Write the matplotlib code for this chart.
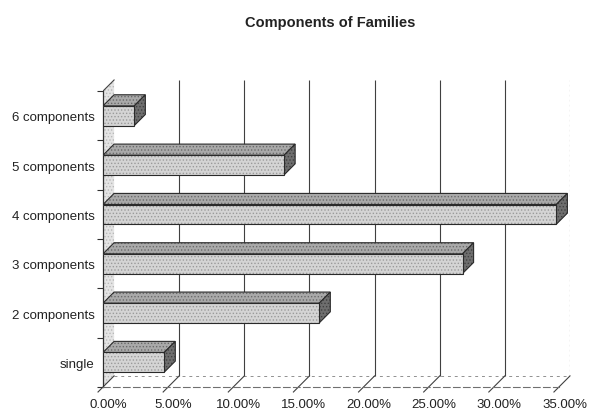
import matplotlib
matplotlib.use("Agg")
import matplotlib.pyplot as plt
from matplotlib.patches import Polygon

# data (share of families, %)
categories = ["single", "2 components", "3 components", "4 components",
              "5 components", "6 components"]
shares = [4.7, 16.6, 27.6, 34.8, 13.9, 2.4]
xticks = [0, 5, 10, 15, 20, 25, 30, 35]
xticklabels = ["0.00%", "5.00%", "10.00%", "15.00%", "20.00%", "25.00%",
               "30.00%", "35.00%"]

plt.rcParams['font.family'] = ['Liberation Sans', 'DejaVu Sans']
plt.rcParams['hatch.linewidth'] = 0.6

# fake 3d depth, in data units
DX = 0.85
DY = 0.225
H = 0.2  # half bar height

fig = plt.figure(figsize=(5.93, 4.14), dpi=100)
ax = fig.add_axes([0.1737, 0.0628, 0.7875, 0.744])
ax.set_xlim(0, 35.85)
ax.set_ylim(-0.5, 5.5 + 0.245)

def face(pts, fc, hc, z, ec='#2a2a2a', lw=0.8):
    ax.add_patch(Polygon(pts, closed=True, facecolor=fc, edgecolor='none', zorder=z))
    ax.add_patch(Polygon(pts, closed=True, facecolor='none', edgecolor=hc,
                         linewidth=0, hatch='.....', zorder=z))
    ax.add_patch(Polygon(pts, closed=True, facecolor='none', edgecolor=ec,
                         linewidth=lw, zorder=z))

# left wall
face([(0, -0.5), (DX, -0.5 + DY), (DX, 5.5 + DY), (0, 5.5)], '#e4e4e4', '#b8b8b8', 1,
     ec='none', lw=0)
ax.plot([0, DX], [5.5, 5.5 + DY], color='#444444', lw=0.8, zorder=2)

# back wall gridlines
for k in xticks[1:]:
    ls = (0, (1.5, 3)) if k == 35 else '-'
    ax.vlines(k + DX, -0.5 + DY, 5.5 + DY, color='#404040', lw=0.8, linestyles=[ls], zorder=1)
ax.hlines(-0.5 + DY, DX, 35 + DX, color='#909090', lw=0.7, linestyles=[(0, (3, 4))], zorder=1)

# slanted floor ticks
for k in xticks:
    ax.plot([k - DX * 0.45, k + DX], [-0.5 - DY * 0.45, -0.5 + DY], color='#404040',
            lw=0.8, clip_on=False, zorder=2)

# bars
for i, v in enumerate(shares):
    y0, y1 = i - H, i + H
    face([(0, y1), (v, y1), (v + DX, y1 + DY), (DX, y1 + DY)], '#a9a9a9', '#6a6a6a', 3)
    face([(v, y0), (v + DX, y0 + DY), (v + DX, y1 + DY), (v, y1)], '#6e6e6e', '#404040', 3)
    face([(0, y0), (v, y0), (v, y1), (0, y1)], '#d4d4d4', '#9a9a9a', 4)

for s in ['top', 'right']:
    ax.spines[s].set_visible(False)
ax.spines['left'].set_color('#303030')
ax.spines['left'].set_linewidth(0.9)
ax.spines['left'].set_bounds(-0.5, 5.5)
ax.spines['bottom'].set_color('#707070')
ax.spines['bottom'].set_linewidth(0.8)
ax.spines['bottom'].set_linestyle((0, (6, 3)))
ax.spines['bottom'].set_bounds(0, 35)

ax.set_xticks([k + DX / 2 for k in xticks], xticklabels, fontsize=9.5)
ax.tick_params(axis='x', length=0, pad=8, colors='#222222')
ax.set_yticks(range(len(categories)), categories, fontsize=9.5)
ax.tick_params(axis='y', length=0, pad=6, colors='#222222')
ax.set_yticks([i - 0.5 for i in range(len(categories) + 1)], minor=True)
ax.tick_params(axis='y', which='minor', length=4, width=0.8, color='#303030')

fig.text(0.557, 0.945, "Components of Families", ha='center', va='center',
         fontsize=10.5, fontweight='bold', color='#222222')

fig.savefig("out.png", dpi=100)
